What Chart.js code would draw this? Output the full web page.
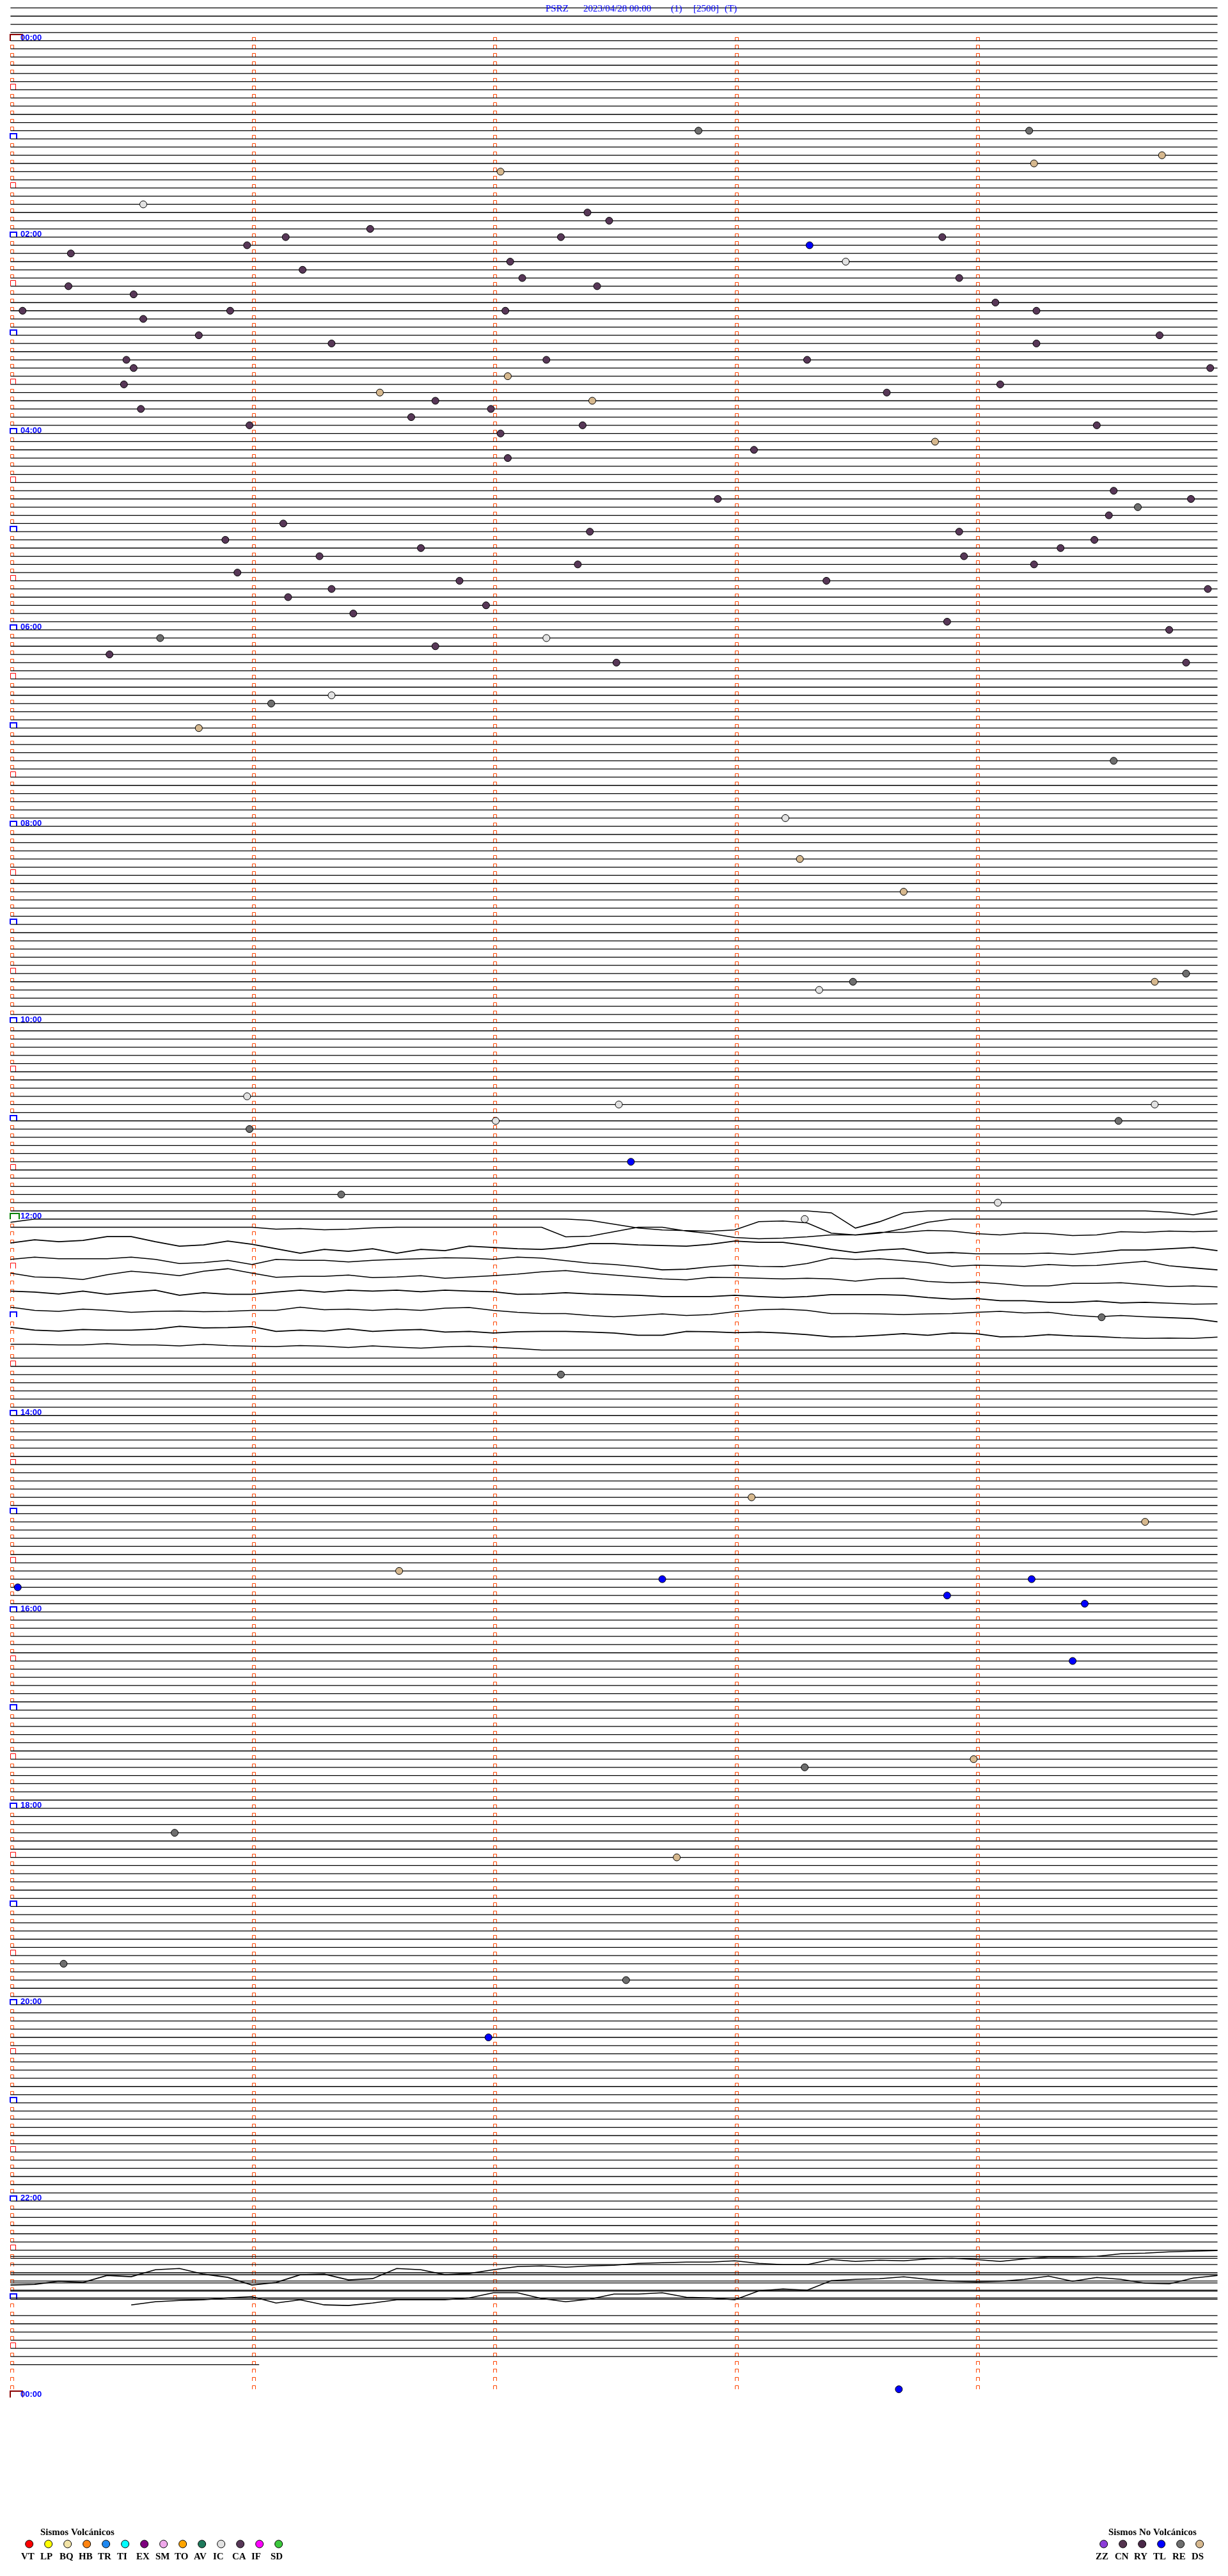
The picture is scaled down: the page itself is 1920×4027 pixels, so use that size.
<!DOCTYPE html>
<html><head><meta charset="utf-8">
<script src="https://cdn.jsdelivr.net/npm/chart.js@4.4.1/dist/chart.umd.min.js"></script>
<style>html,body{margin:0;padding:0;background:#fff;}canvas{display:block;}</style>
</head><body>
<canvas id="c" width="1920" height="4027"></canvas>
<script>
// ================= DATA =================
const titleParts = ['PSRZ', '2023/04/28 00:00', '(1)', '[2500]', '(T)'];
const hourLabels = ['00:00','02:00','04:00','06:00','08:00','10:00','12:00','14:00','16:00','18:00','20:00','22:00','00:00'];
const minutesPerRow = 5;
const firstRow = -4;
const lastRow = 284;
const lastRowEndMinute = 1.03;
const totalRows = 288;
const silentRows = [146,148,150,152,154,156,157,159];

// seismic traces (amplitude per 6-second sample, positive = downward)
const sampleStepMinutes = 0.1;
const trace143 = [0,0,0,0,0,0,0,0,0,0, 0,0,0,0,0,0,0,0,0,0, 0,0,0,0,0,0,0,0,0,0, 0,0,0,0,3,27,17,3,0,0, 0,0,0,0,0,0,0,0,2,6, 0];
const trace144 = [5,0,0,0,0,0,0,0,0,0, 0,0,0,0,0,0,0,0,0,0, 0,0,0,0,2,8,14,17,18,19, 17,4,3,6,22,25,22,15,5,0, 0,0,0,0,0,0,0,0,0,0, 0];
const trace145 = [0,0,0,0,0,0,0,0,0,0, 0,3,2,4,3,1,0,0,0,0, 0,0,0,15,14,7,0,0,6,10, 16,18,17,15,12,12,8,8,5,6, 10,12,9,10,13,12,7,8,6,7, 6];
const trace147 = [-1,-6,-3,-5,-11,-11,-3,4,2,-4, 1,8,15,9,12,8,15,9,11,4, 6,8,9,6,0,0,2,3,4,1, -4,-2,-2,3,9,14,10,8,15,14, 16,16,16,15,17,14,10,10,8,6, 11];
const trace149 = [-1,-4.5,-2,-2,-2,-4.5,-1,5.5,4,0.5, 7,-1,0.5,0.5,3,0.5,-1,-2,-3.5,-3, -1,-4.5,-3,1,5,7,10.5,15.5,14.5,10.5, 8,10,10.5,5.5,-3,-1,-2,1,4,10, 8,9,10,7,9,8.5,5,2,9,12.5, 15.5];
const trace151 = [-5,1,2,5,-2.5,-8,-5,-1,-8,-12, -5,1.5,0,0,-2,2,1,-1,3,1, -1,-3.5,-7,-9,-5,-2,1,4,5.5,1.5, 2,3,4,3,4,7.5,3.5,3,8,10, 9,11.5,15,15,11,11,10,13,16,15, 16.5];
const trace153 = [-2.5,-1,2,-2.5,2.5,-1,-4,4,0,2.5, 2.5,-1,-4,-1,-4,-2.5,-4,-1.5,-4,-2.5, -1.5,2.5,2,0,2,3,4,6,6,6, 4,6,7.5,6,3,3,3,4,7.5,10, 9,12.5,12.5,15,15,13,16,15,16.5,18, 17.5];
const trace155 = [-3,2,3.5,0,2,5,3.5,3,4,3.5, 2,2,-3,1,0,2,0,2,-1.5,-2.5, 2,5,7,7,10,12,10,7.5,10,8.5, 4,1,0,2,7,7,7.5,8.5,7.5,7, 5,3.5,6,5,9.5,12,10,12,13.5,15, 20];
const trace158 = [-10,-5.5,-4,-6.5,-5.5,-5.5,-7,-11.5,-9,-9.5, -11,-3.5,-5.5,-4,-7.5,-3.5,-5.5,-6.5,-2.5,-3.5, -1,-3,-3.5,-3.5,-2.5,-1,2.5,2.5,-3.5,-3, -1.5,-2.5,-1,1.5,5,4.5,2.5,0,2.5,-1, 0,5,4.5,1.5,3.5,4.5,6.5,7.5,7,7.5, 5.5];
const trace160 = [-9,-9,-8,-8,-10,-8,-8,-6.5,-9,-7, -6,-5.5,-7,-6,-4,-6.5,-4.5,-3,-5,-6, -4.5,-2.5,0,0,0,0,0,0,0,0, 0,0,0,0,0,0,0,0,0,0, 0,0,0,0,0,0,0,0,0,0, 0];
const trace272 = [29,28,23,25,14,16,5,3,12,17, 29,25,13,12,21,19,3,5,13,11, 5,0,-1,1,-1,-2,-5,-6,-7,-7, -9,-5,-3,-3,-11,-8,-10,-9,-12,-13, -11,-8,-12,-15,-15,-16,-20,-21,-23,-24, -25];
const trace277 = [-4,-9,-11,-12,-15, -17,-7,-12,-4,-3,-7,-12,-12,-12,-15, -23,-23,-14,-9,-13,-21,-21,-23,-16,-15, -12,-26,-29,-27,-42,-44,-45,-48,-44,-41, -40,-41,-44,-49,-41,-47,-44,-38,-37,-46, -50];
const traceRows = [143,144,145,147,149,151,153,155,158,160,272,277];
const traceStartSample = [0,0,0,0,0,0,0,0,0,0,0,5];
const traceSamples = [trace143,trace144,trace145,trace147,trace149,trace151,trace153,trace155,trace158,trace160,trace272,trace277];

// rows whose quiet trace shows a second, shifted line
const offsetLineRows = [271,272,273,274,275,276];
const offsetLineAmps = [-3,-3,-3,-3,-1.5,-2];

// events: minute of day and type
const eventMinutes = [57.85,59.22,82.03,79.24,74.77,100.55,107.39,112.48,116.49,121.14,
  125.98,122.28,128.31,123.86,130.25,137.07,138.46,141.21,147.12,148.93,
  150.24,152.43,155.51,164.08,165.05,165.91,167.05,169.25,170.55,180.78,
  186.33,189.25,184.76,195.48,200.51,197.22,198.30,204.97,210.47,207.06,
  216.53,221.76,218.63,214.10,222.41,225.54,226.99,231.66,235.99,237.37,
  242.03,239.50,248.83,253.08,257.06,279.57,282.93,289.67,284.89,294.55,
  296.13,305.89,302.40,303.93,309.49,311.70,314.35,316.28,318.95,324.24,
  322.35,325.94,333.38,331.86,336.33,339.96,341.15,346.97,351.42,358.88,
  364.80,365.62,367.22,371.76,375.41,382.51,384.87,401.33,406.08,420.78,
  444.57,478.21,503.27,523.70,574.87,578.49,579.74,583.35,645.98,652.52,
  654.74,665.99,662.01,664.59,687.57,706.37,714.09,723.29,784.52,817.28,
  893.07,909.70,936.61,945.03,942.70,953.88,944.23,959.45,994.40,1058.29,
  1053.99,1095.68,1112.76,1175.22,1187.55,1221.98,1438.68];
const eventTypes = ['RE','RE','DS','DS','DS','IC','CA','CA','CA','CA',
  'CA','CA','TL','CA','CA','CA','IC','CA','CA','CA',
  'CA','CA','CA','CA','CA','CA','CA','CA','CA','CA',
  'CA','CA','CA','CA','CA','CA','CA','CA','CA','DS',
  'DS','CA','CA','CA','DS','CA','CA','CA','CA','CA',
  'CA','CA','DS','CA','CA','CA','CA','RE','CA','CA',
  'CA','CA','CA','CA','CA','CA','CA','CA','CA','CA',
  'CA','CA','CA','CA','CA','CA','CA','CA','CA','CA',
  'CA','RE','IC','CA','CA','CA','CA','IC','RE','DS',
  'RE','IC','DS','DS','RE','RE','DS','IC','IC','IC',
  'IC','RE','IC','RE','TL','RE','IC','IC','RE','RE',
  'DS','DS','DS','TL','TL','TL','TL','TL','TL','RE',
  'DS','RE','DS','RE','RE','TL','TL'];

const volcanicTitle = 'Sismos Volcánicos';
const volcanicTypes = ['VT','LP','BQ','HB','TR','TI','EX','SM','TO','AV','IC','CA','IF','SD'];
const volcanicColors = ['#FF0000','#FFFF00','#F2E3A6','#FF8410','#1E88F0','#00FFFF','#7E007E','#EFA8EB','#FFA500','#1F7A5C','#E2E2E2','#573757','#FF00FF','#3CC83C'];
const nonVolcanicTitle = 'Sismos No Volcánicos';
const nonVolcanicTypes = ['ZZ','CN','RY','TL','RE','DS'];
const nonVolcanicColors = ['#8C3CD8','#54344F','#4A2848','#0000FF','#6E6E6E','#D6B88E'];

// ================= BUILD =================
const PX_PER_ROW = 12.834, PX_PER_MIN = 380;
const AMP = 1 / PX_PER_ROW;
const X_MIN = -10 / PX_PER_MIN, X_MAX = 1910 / PX_PER_MIN;
const Y_TOP = -57.3 / PX_PER_ROW, Y_BOTTOM = (4027 - 57.3) / PX_PER_ROW;

const baseData = [];
for (let r = firstRow; r <= lastRow; r++) {
  if (traceRows.includes(r) || silentRows.includes(r)) continue;
  const end = r === lastRow ? lastRowEndMinute : minutesPerRow;
  baseData.push({x:0,y:r},{x:end,y:r},{x:end,y:null});
}
offsetLineRows.forEach((r,i)=>{
  const v = r + offsetLineAmps[i]*AMP;
  baseData.push({x:0,y:v},{x:minutesPerRow,y:v},{x:minutesPerRow,y:null});
});

const traceData = [];
traceRows.forEach((r,i)=>{
  const s = traceSamples[i], st = traceStartSample[i];
  s.forEach((a,j)=>traceData.push({x:(st+j)*sampleStepMinutes, y:r + a*AMP}));
  traceData.push({x:minutesPerRow, y:null});
});

const allTypes = volcanicTypes.concat(nonVolcanicTypes);
const allColors = volcanicColors.concat(nonVolcanicColors);
const colorOf = t => allColors[allTypes.indexOf(t)];
const eventData = eventMinutes.map(t=>({x: t % minutesPerRow, y: Math.floor(t / minutesPerRow)}));
const eventColors = eventTypes.map(colorOf);

function drawLegendGroup(ctx, title, titleX, labelX0, types, colors) {
  ctx.textAlign = 'left'; ctx.textBaseline = 'alphabetic';
  ctx.font = 'bold 15px "Liberation Serif", serif';
  ctx.fillStyle = '#000';
  ctx.fillText(title, titleX, 3963);
  types.forEach((t,i)=>{
    const cx = labelX0 + 12.7 + 30*i;
    ctx.beginPath(); ctx.arc(cx, 3977, 6, 0, Math.PI*2);
    ctx.fillStyle = colors[i]; ctx.fill();
    ctx.lineWidth = 1; ctx.strokeStyle = '#000'; ctx.stroke();
    ctx.fillStyle = '#000';
    ctx.fillText(t, labelX0 + 30*i, 4001);
  });
}

const decorPlugin = {
  id: 'helicorderDecor',
  beforeDatasetsDraw(chart) {
    const {ctx, scales:{x, y}} = chart;
    ctx.save();
    // minute tick marks
    ctx.strokeStyle = '#FF4500'; ctx.lineWidth = 1;
    ctx.beginPath();
    for (let r = 0; r < totalRows; r++) {
      const py = Math.round(y.getPixelForValue(r));
      for (let k = 0; k < minutesPerRow; k++) {
        if (k === 0 && r % 6 === 0) continue;
        const px = Math.round(x.getPixelForValue(k));
        ctx.moveTo(px+0.5, py); ctx.lineTo(px+0.5, py-5.5); ctx.lineTo(px+5.5, py-5.5); ctx.lineTo(px+5.5, py);
      }
    }
    ctx.stroke();
    // half-hour boxes
    ctx.strokeStyle = '#FF0000'; ctx.beginPath();
    for (let r = 6; r < totalRows; r += 12) {
      const py = Math.round(y.getPixelForValue(r));
      const px = Math.round(x.getPixelForValue(0));
      ctx.moveTo(px+0.5, py); ctx.lineTo(px+0.5, py-8.5); ctx.lineTo(px+8.5, py-8.5); ctx.lineTo(px+8.5, py);
    }
    ctx.stroke();
    // hour brackets
    for (let r = 0; r <= totalRows; r += 12) {
      const h = r / 12;
      const py = Math.round(y.getPixelForValue(r));
      const px = Math.round(x.getPixelForValue(0)) - 1;
      if (h === 0 || h === 24) {
        ctx.fillStyle = '#8B0000';
        ctx.fillRect(px, py-11, 21, 2); ctx.fillRect(px, py-11, 2, 11); ctx.fillRect(px+20, py-11, 1, 11);
      } else if (h === 12) {
        ctx.fillStyle = '#008000';
        ctx.fillRect(px, py-10, 16, 2); ctx.fillRect(px, py-10, 2, 10); ctx.fillRect(px+14, py-10, 2, 10);
      } else {
        ctx.fillStyle = '#0000FF';
        ctx.fillRect(px, py-9, 12, 2); ctx.fillRect(px, py-9, 2, 9); ctx.fillRect(px+10, py-9, 2, 9);
      }
      if (h % 2 === 0) {
        ctx.fillStyle = '#0000FF';
        ctx.font = 'bold 13px "Liberation Sans", sans-serif';
        ctx.textAlign = 'left'; ctx.textBaseline = 'alphabetic';
        ctx.fillText(hourLabels[h/2], 32, py - 1);
      }
    }
    ctx.restore();
  },
  afterDraw(chart) {
    const ctx = chart.ctx;
    ctx.save();
    // title
    ctx.fillStyle = '#0000FF';
    ctx.font = '15px "Liberation Serif", serif';
    ctx.textAlign = 'left'; ctx.textBaseline = 'alphabetic';
    const tx = [853, 912, 1049, 1084, 1133];
    titleParts.forEach((t,i)=>ctx.fillText(t, tx[i], 17.5));
    // legends
    drawLegendGroup(ctx, volcanicTitle, 63, 33, volcanicTypes, volcanicColors);
    drawLegendGroup(ctx, nonVolcanicTitle, 1733, 1713, nonVolcanicTypes, nonVolcanicColors);
    ctx.restore();
  }
};

new Chart(document.getElementById('c').getContext('2d'), {
  type: 'scatter',
  data: { datasets: [
    { label:'events', data: eventData, showLine:false, order:0,
      pointRadius:5.5, pointHoverRadius:5.5, pointBackgroundColor: eventColors,
      pointBorderColor:'#000', pointBorderWidth:1 },
    { label:'traces', data: traceData, showLine:true, spanGaps:false, order:1,
      borderColor:'#000', borderWidth:1.6, pointRadius:0, fill:false },
    { label:'baselines', data: baseData, showLine:true, spanGaps:false, order:2,
      borderColor:'#000', borderWidth:1.3, pointRadius:0, fill:false }
  ]},
  options: {
    responsive:false, animation:false, devicePixelRatio:1, events:[],
    layout:{padding:0},
    elements:{ line:{tension:0} },
    plugins:{ legend:{display:false}, tooltip:{enabled:false}, title:{display:false} },
    scales:{
      x:{ type:'linear', min:X_MIN, max:X_MAX, display:false },
      y:{ type:'linear', reverse:true, min:Y_TOP, max:Y_BOTTOM, display:false }
    }
  },
  plugins:[decorPlugin]
});
</script>
</body></html>
